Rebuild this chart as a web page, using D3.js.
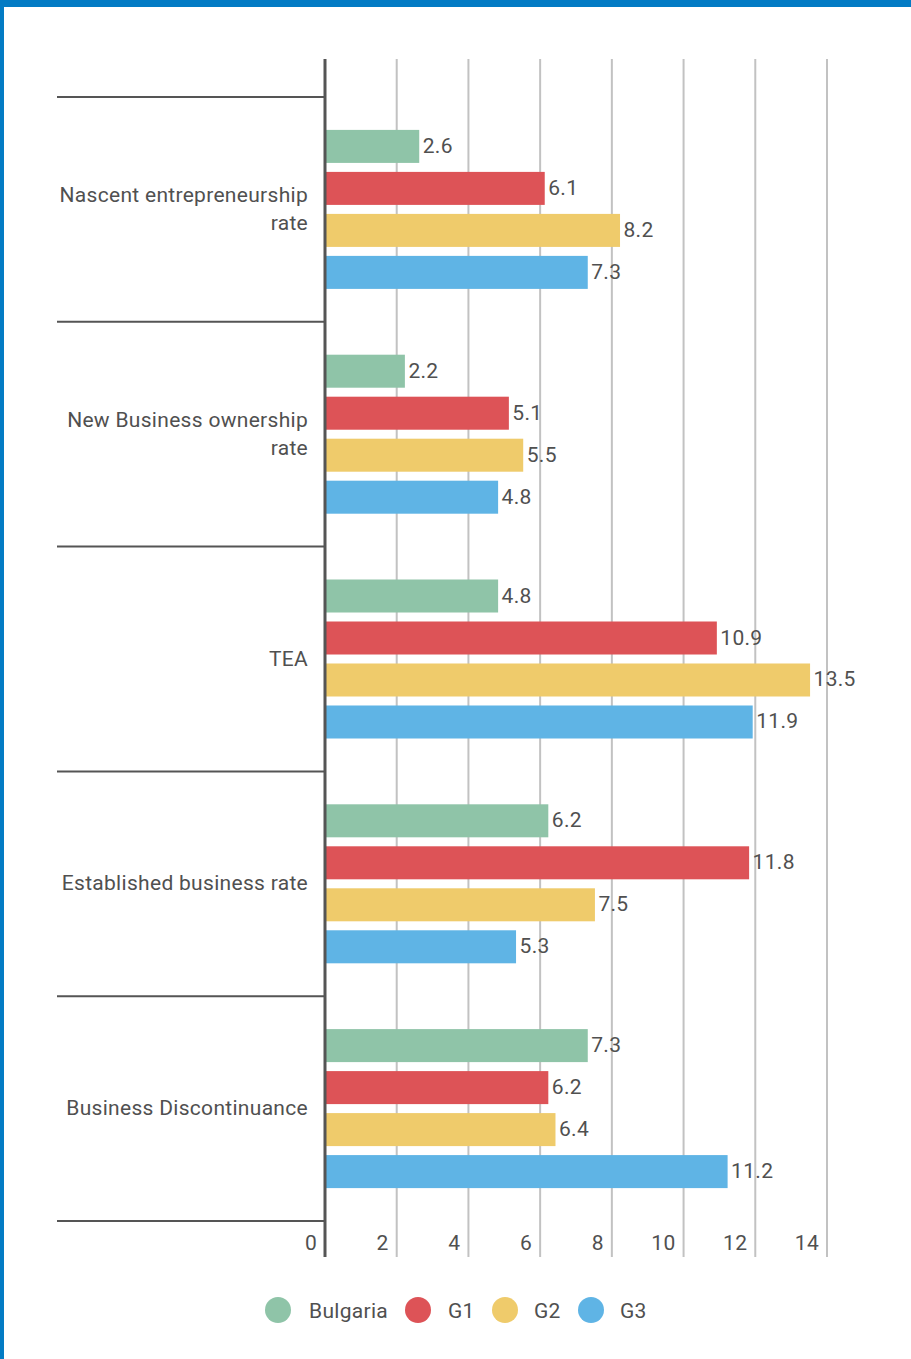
<!DOCTYPE html>
<html>
<head>
<meta charset="utf-8">
<script src="https://cdn.jsdelivr.net/npm/d3@7"></script>
<style>
  html, body { margin: 0; padding: 0; background: #fff; }
  svg { display: block; }
  text { font-family: Roboto, "Noto Sans", sans-serif; fill: #505050; font-weight: 400; letter-spacing: 0.3px; }
</style>
</head>
<body>
<svg id="chart" width="911" height="1359"></svg>
<script>
// Indicator categories (labels may wrap over two lines)
const categories = [
  ["Nascent entrepreneurship", "rate"],
  ["New Business ownership", "rate"],
  ["TEA"],
  ["Established business rate"],
  ["Business Discontinuance"]
];
const seriesNames = ["Bulgaria", "G1", "G2", "G3"];
const seriesColors = ["#8FC4A8", "#DD5357", "#EFCB6B", "#5FB4E5"];

// Rates per category, one array per series
const bulgaria = [2.6, 2.2, 4.8, 6.2, 7.3];
const g1 = [6.1, 5.1, 10.9, 11.8, 6.2];
const g2 = [8.2, 5.5, 13.5, 7.5, 6.4];
const g3 = [7.3, 4.8, 11.9, 5.3, 11.2];
const seriesValues = [bulgaria, g1, g2, g3];

const xTicks = [0, 2, 4, 6, 8, 10, 12, 14];

const svg = d3.select("#chart");
const fontSize = 21;

// Frame accents
svg.append("rect").attr("x", 0).attr("y", 0).attr("width", 911).attr("height", 7).attr("fill", "#037BC4");
svg.append("rect").attr("x", 0).attr("y", 0).attr("width", 4).attr("height", 1359).attr("fill", "#037BC4");

const plotTop = 97, plotBottom = 1221;
const groupHeight = 159;
const x = d3.scaleLinear().domain([0, 14]).range([325, 827]);
const yBand = d3.scaleBand().domain(d3.range(categories.length)).range([plotTop, plotBottom]);
const ySeries = d3.scaleBand().domain(d3.range(seriesNames.length))
  .range([0, groupHeight]).paddingInner(0.214);
const groupOffset = (yBand.bandwidth() - groupHeight) / 2;

// Vertical gridlines
svg.append("g").selectAll("line").data(xTicks.slice(1)).join("line")
  .attr("x1", d => x(d)).attr("x2", d => x(d))
  .attr("y1", 59).attr("y2", 1257)
  .attr("stroke", "#c2c2c2").attr("stroke-width", 2);

// Tick labels
svg.append("g").selectAll("text").data(xTicks).join("text")
  .attr("x", d => x(d) - 8).attr("y", 1250)
  .attr("text-anchor", "end").attr("font-size", fontSize)
  .text(d => d);

// Category separator lines
svg.append("g").selectAll("line").data(d3.range(categories.length + 1)).join("line")
  .attr("x1", 57).attr("x2", 325)
  .attr("y1", i => plotTop + i * yBand.step()).attr("y2", i => plotTop + i * yBand.step())
  .attr("stroke", "#555").attr("stroke-width", 2);

// Bars, value labels and category labels
const groups = svg.append("g").selectAll("g").data(categories).join("g")
  .attr("transform", (d, i) => `translate(0,${yBand(i) + groupOffset})`);

groups.each(function(lines, ci) {
  const g = d3.select(this);
  seriesValues.forEach((vals, si) => {
    const v = vals[ci];
    g.append("rect")
      .attr("x", x(0) + 1).attr("y", ySeries(si))
      .attr("width", x(v) - x(0)).attr("height", ySeries.bandwidth())
      .attr("fill", seriesColors[si]);
    g.append("text")
      .attr("x", x(v) + 4.5).attr("y", ySeries(si) + ySeries.bandwidth() / 2 + 6.5)
      .attr("font-size", fontSize)
      .text(v.toFixed(1));
  });
  const cy = groupHeight / 2;
  lines.forEach((ln, li) => {
    g.append("text")
      .attr("x", 308)
      .attr("y", cy + 6.5 + (li - (lines.length - 1) / 2) * 28)
      .attr("text-anchor", "end").attr("font-size", fontSize)
      .text(ln);
  });
});

// Zero axis
svg.append("line").attr("x1", x(0)).attr("x2", x(0)).attr("y1", 59).attr("y2", 1257)
  .attr("stroke", "#555").attr("stroke-width", 3);

// Legend
const legendItems = [
  { cx: 278, tx: 309 },
  { cx: 418, tx: 448 },
  { cx: 505, tx: 534 },
  { cx: 591, tx: 620 }
];
const legend = svg.append("g");
seriesNames.forEach((name, i) => {
  legend.append("circle").attr("cx", legendItems[i].cx).attr("cy", 1310).attr("r", 13)
    .attr("fill", seriesColors[i]);
  legend.append("text").attr("x", legendItems[i].tx).attr("y", 1317.5)
    .attr("font-size", fontSize).text(name);
});
</script>
</body>
</html>
